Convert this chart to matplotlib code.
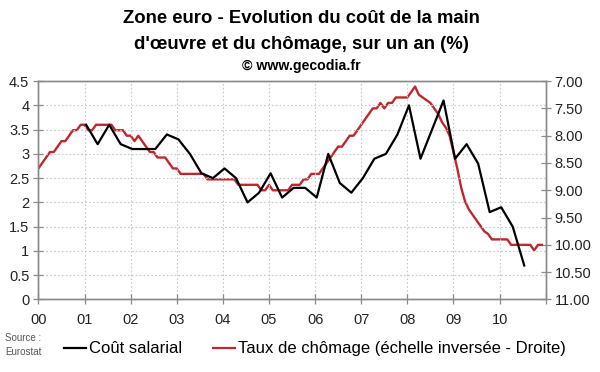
import numpy as np
import pandas as pd
import matplotlib
matplotlib.use("Agg")
import matplotlib.pyplot as plt
from matplotlib.lines import Line2D

plt.rcParams['font.family'] = ['Liberation Sans', 'DejaVu Sans']

# Unemployment rate, monthly, Jan 2000 - Dec 2010 (right axis, inverted)
chomage = [
    8.6, 8.5, 8.4, 8.3, 8.3, 8.2, 8.1, 8.1, 8.0, 7.9, 7.9, 7.8,   # 2000
    7.8, 7.9, 7.9, 7.8, 7.8, 7.8, 7.8, 7.8, 7.9, 7.9, 7.9, 8.0,   # 2001
    8.0, 8.1, 8.0, 8.1, 8.2, 8.3, 8.3, 8.4, 8.4, 8.4, 8.5, 8.6,   # 2002
    8.6, 8.7, 8.7, 8.7, 8.7, 8.7, 8.7, 8.7, 8.8, 8.8, 8.8, 8.8,   # 2003
    8.8, 8.8, 8.8, 8.8, 8.9, 8.9, 8.9, 8.9, 8.9, 8.9, 9.0, 9.0,   # 2004
    8.9, 9.0, 9.0, 9.0, 9.0, 9.0, 8.9, 8.9, 8.9, 8.8, 8.8, 8.7,   # 2005
    8.7, 8.7, 8.6, 8.5, 8.4, 8.3, 8.2, 8.2, 8.1, 8.0, 8.0, 7.9,   # 2006
    7.8, 7.7, 7.6, 7.5, 7.5, 7.4, 7.5, 7.4, 7.4, 7.3, 7.3, 7.3,   # 2007
    7.3, 7.2, 7.1, 7.25, 7.3, 7.35, 7.4, 7.5, 7.6, 7.75, 7.85, 8.0,  # 2008
    8.3, 8.6, 8.95, 9.2, 9.35, 9.45, 9.55, 9.65, 9.75, 9.8, 9.9, 9.9,  # 2009
    9.9, 9.9, 9.9, 10.0, 10.0, 10.0, 10.0, 10.0, 10.0, 10.1, 10.0, 10.0,  # 2010
]
mois = pd.date_range("2000-01-01", periods=len(chomage), freq="MS")

# Labour cost, year-on-year %, quarterly from 2001 Q1 (left axis)
cout = [
    3.6, 3.2, 3.6, 3.2,
    3.1, 3.1, 3.1, 3.4,
    3.3, 3.0, 2.6, 2.5,
    2.7, 2.5, 2.0, 2.2,
    2.6, 2.1, 2.3, 2.3,
    2.1, 3.0, 2.4, 2.2,
    2.5, 2.9, 3.0, 3.4,
    4.0, 2.9, 3.5, 4.1,
    2.9, 3.2, 2.8, 1.8,
    1.9, 1.5, 0.7,
]
trimestres = pd.date_range("2001-01-01", periods=len(cout), freq="QS")

annees = list(range(2000, 2012))
labels_x = ["00", "01", "02", "03", "04", "05", "06", "07", "08", "09", "10", ""]


def to_year(dates):
    return dates.year + (dates.month - 1) / 12.0


x_red = to_year(mois)
x_black = to_year(trimestres) + 0.035

red = "#C0272D"
grey = "#8a8a8a"

fig = plt.figure(figsize=(6, 3.72), dpi=100)
ax = fig.add_axes([0.064, 0.195, 0.8455, 0.587])
ax2 = ax.twinx()

ax2.plot(x_red, chomage, color=red, lw=1.7, zorder=3)
ax.plot(x_black, cout, color="black", lw=1.6, zorder=4)
ax.set_zorder(ax2.get_zorder() + 1)
ax.patch.set_visible(False)

ax.set_xlim(2000, 2011)
ax.set_ylim(0, 4.5)
ax.set_yticks(np.arange(0, 4.51, 0.5))
ax.set_yticklabels(["0", "0.5", "1", "1.5", "2", "2.5", "3", "3.5", "4", "4.5"])
ax.set_xticks(annees)
ax.set_xticklabels(labels_x)

ax2.set_ylim(11, 7)
ax2.set_yticks(np.arange(7, 11.01, 0.5))
ax2.set_yticklabels([f"{v:.2f}" for v in np.arange(7, 11.01, 0.5)])

ax.grid(True, color="#c8c8c8", linestyle=(0, (1.5, 2)), lw=0.8)
for a in (ax, ax2):
    for s in a.spines.values():
        s.set_color(grey)
        s.set_linewidth(1.0)
    a.tick_params(direction="inout", length=7, width=0.9, color=grey,
                  labelsize=10.5, labelcolor="#222222", pad=3)
ax.tick_params(axis="x", pad=6)

fig.text(0.503, 0.950, "Zone euro - Evolution du coût de la main",
         ha="center", va="center", fontsize=13.3, fontweight="bold")
fig.text(0.503, 0.880, "d'œuvre et du chômage, sur un an (%)",
         ha="center", va="center", fontsize=13.3, fontweight="bold")
fig.text(0.503, 0.822, "© www.gecodia.fr",
         ha="center", va="center", fontsize=10.2, fontweight="bold")

fig.text(0.008, 0.072, "Source :\nEurostat", ha="left", va="center",
         fontsize=7, color="#555555", linespacing=1.5)

handles = [Line2D([], [], color="black", lw=1.6),
           Line2D([], [], color=red, lw=1.6)]
fig.legend(handles, ["Coût salarial", "Taux de chômage (échelle inversée - Droite)"],
           loc="center", bbox_to_anchor=(0.525, 0.062), ncol=2, frameon=False,
           fontsize=12, handlelength=1.3, handletextpad=0.2, columnspacing=1.85)

fig.savefig("out.png", dpi=100)
